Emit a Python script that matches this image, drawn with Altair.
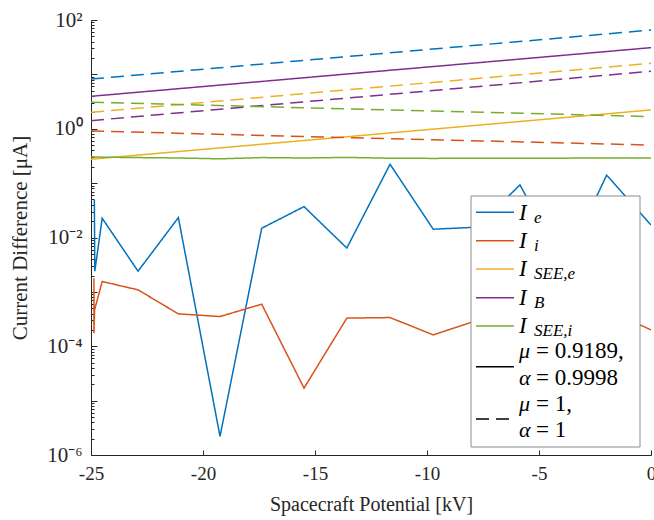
import altair as alt
import pandas as pd

# ---------------- data ----------------
series_names = ["I_e", "I_i", "I_SEE,e", "I_B", "I_SEE,i"]
series_colors = ["#0072BD", "#D95319", "#EDB120", "#7E2F8E", "#77AC30"]

# solid lines (mu = 0.9189, alpha = 0.9998)
ie_x = [-24.85, -24.83, -24.5, -22.9, -21.1, -19.24, -17.38, -15.49, -13.58, -11.65, -9.72, -7.75, -5.85, -3.9, -1.98, 0]
ie_y = [0.049, 0.0024, 0.0226, 0.0024, 0.0232, 2.2e-6, 0.0148, 0.037, 0.0064, 0.222, 0.0142, 0.0155, 0.093, 0.003, 0.14, 0.017]

ii_x = [-24.87, -24.87, -24.84, -24.5, -22.9, -21.1, -19.24, -17.38, -15.49, -13.58, -11.65, -9.72, -7.75, -5.85, -3.9, -1.98, 0]
ii_y = [0.00179, 1.74e-4, 4.67e-4, 0.00155, 0.00109, 3.94e-4, 3.52e-4, 5.94e-4, 1.70e-5, 3.29e-4, 3.37e-4, 1.62e-4, 3.0e-4, 4.0e-4, 2.5e-4, 4.7e-4, 2.0e-4]

grid_x = [-25, -18.75, -12.5, -6.25, 0]
seee_solid = [0.275, 0.463, 0.780, 1.315, 2.22]
ib_solid = [3.95, 6.62, 11.1, 18.5, 31.0]

seei_x = [-25, -24.5, -22.9, -21.1, -19.24, -17.38, -15.49, -13.58, -11.65, -9.72, -7.75, -5.85, -3.9, -1.98, 0]
seei_solid = [0.305, 0.300, 0.295, 0.290, 0.280, 0.295, 0.290, 0.297, 0.287, 0.285, 0.287, 0.288, 0.288, 0.290, 0.290]

# dashed lines (mu = 1, alpha = 1)
ie_dashed = [8.2, 13.8, 23.2, 39.0, 65.5]
ii_dashed = [0.91, 0.78, 0.67, 0.58, 0.50]
seee_dashed = [2.01, 3.37, 5.67, 9.53, 16.0]
ib_dashed = [1.41, 2.38, 4.01, 6.76, 11.4]
seei_dashed = [3.07, 2.64, 2.26, 1.95, 1.67]

x_ticks = [-25, -20, -15, -10, -5, 0]
y_label_ticks = [1e-6, 1e-4, 1e-2, 1, 1e2]

# ---------------- table ----------------
rows = []
def add(name, style, xs, ys):
    for i, (a, b) in enumerate(zip(xs, ys)):
        rows.append({"x": a, "y": b, "series": name, "style": style, "idx": i})

add("I_e", "solid", ie_x, ie_y)
add("I_i", "solid", ii_x, ii_y)
add("I_SEE,e", "solid", grid_x, seee_solid)
add("I_B", "solid", grid_x, ib_solid)
add("I_SEE,i", "solid", seei_x, seei_solid)
add("I_e", "dashed", grid_x, ie_dashed)
add("I_i", "dashed", grid_x, ii_dashed)
add("I_SEE,e", "dashed", grid_x, seee_dashed)
add("I_B", "dashed", grid_x, ib_dashed)
add("I_SEE,i", "dashed", grid_x, seei_dashed)
df = pd.DataFrame(rows)

W, H = 560, 435
FONT = "Liberation Serif"
AX = "#262626"

minor_vals = []
for e in range(-6, 2):
    for m in range(1, 10):
        minor_vals.append(m * 10.0 ** e)
minor_vals.append(100.0)

xscale = alt.Scale(domain=[-25, 0], nice=False, zero=False)
yscale = alt.Scale(type="log", domain=[1e-6, 1e2], nice=False)

sup = "{'0.000001': '10⁻⁶', '0.0001': '10⁻⁴', '0.01': '10⁻²', '1': '10⁰', '100': '10²'}"

lines = alt.Chart(df).mark_line(strokeWidth=1.5, clip=True).encode(
    x=alt.X("x:Q", scale=xscale,
            axis=alt.Axis(values=x_ticks, ticks=False, grid=False, domainColor=AX,
                          labelFont=FONT, labelFontSize=19, labelColor=AX, labelFlush=False,
                          labelExpr="'' + datum.value", labelPadding=9,
                          title="Spacecraft Potential [kV]", titleFont=FONT,
                          titleFontSize=20, titleFontWeight="normal", titleColor=AX,
                          titlePadding=11)),
    y=alt.Y("y:Q", scale=yscale,
            axis=alt.Axis(values=y_label_ticks, ticks=False, grid=False, domainColor=AX,
                          labelFont=FONT, labelFontSize=21, labelColor=AX, labelFlush=False,
                          labelExpr=sup + "[toString(datum.value)]", labelPadding=9,
                          title="Current Difference [μA]", titleFont=FONT,
                          titleFontSize=21, titleFontWeight="normal", titleColor=AX,
                          titlePadding=16)),
    color=alt.Color("series:N", scale=alt.Scale(domain=series_names, range=series_colors), legend=None),
    strokeDash=alt.StrokeDash("style:N", scale=alt.Scale(domain=["solid", "dashed"], range=[[1, 0], [13, 7]]), legend=None),
    order="idx:Q",
)

ticks_layer = alt.Chart(df).mark_point(opacity=0).encode(
    x=alt.X("x:Q", scale=xscale,
            axis=alt.Axis(orient="top", offset=-H, values=x_ticks, labels=False, domain=False,
                          grid=False, tickSize=5, tickColor=AX, title=None)),
    y=alt.Y("y:Q", scale=yscale,
            axis=alt.Axis(orient="right", offset=-W, values=minor_vals, labels=False, domain=False,
                          grid=False, tickColor=AX, title=None,
                          tickSize={"condition": {"test": "abs(log(datum.value)/LN10 - round(log(datum.value)/LN10)) < 0.001", "value": 6}, "value": 3})),
)

# ---------------- legend (drawn in the plot's pixel frame) ----------------
box = pd.DataFrame([{"x1": 380, "x2": 549, "y1": 176, "y2": 427}])
legend_box = alt.Chart(box).mark_rect(fill="white", stroke="#8c8c8c", strokeWidth=1).encode(
    x=alt.X("x1:Q", scale=None, axis=None), x2="x2:Q",
    y=alt.Y("y1:Q", scale=None, axis=None), y2="y2:Q")

sw = pd.DataFrame({
    "x1": [385] * 5, "x2": [423] * 5,
    "y": [192.3, 220.7, 249, 277.7, 306],
    "series": series_names,
})
legend_sw = alt.Chart(sw).mark_rule(strokeWidth=1.5).encode(
    x=alt.X("x1:Q", scale=None, axis=None), x2="x2:Q",
    y=alt.Y("y:Q", scale=None, axis=None),
    color=alt.Color("series:N", scale=alt.Scale(domain=series_names, range=series_colors), legend=None))

sw2 = pd.DataFrame({"x1": [385, 385], "x2": [423, 423], "y": [346.7, 399], "style": ["solid", "dashed"]})
legend_sw2 = alt.Chart(sw2).mark_rule(strokeWidth=1.5, color="black").encode(
    x=alt.X("x1:Q", scale=None, axis=None), x2="x2:Q",
    y=alt.Y("y:Q", scale=None, axis=None),
    strokeDash=alt.StrokeDash("style:N", scale=alt.Scale(domain=["solid", "dashed"], range=[[1, 0], [13, 7]]), legend=None))

main_txt = pd.DataFrame({"x": [428] * 5, "y": [199.5, 227.8, 256.2, 284.5, 312.5], "t": ["I"] * 5})
legend_main = alt.Chart(main_txt).mark_text(font=FONT, fontStyle="italic", fontSize=23, align="left",
                                            baseline="alphabetic", color="black").encode(
    x=alt.X("x:Q", scale=None, axis=None), y=alt.Y("y:Q", scale=None, axis=None), text="t:N")

sub_txt = pd.DataFrame({"x": [443] * 5, "y": [202.5, 230.8, 259.2, 287.5, 315.5],
                        "t": ["e", "i", "SEE,e", "B", "SEE,i"]})
legend_sub = alt.Chart(sub_txt).mark_text(font=FONT, fontStyle="italic", fontSize=17, align="left",
                                          baseline="alphabetic", color="black").encode(
    x=alt.X("x:Q", scale=None, axis=None), y=alt.Y("y:Q", scale=None, axis=None), text="t:N")

greek = pd.DataFrame({"x": [428] * 4, "y": [338, 364.5, 391, 416.5], "t": ["μ", "α", "μ", "α"]})
legend_greek = alt.Chart(greek).mark_text(font=FONT, fontStyle="italic", fontSize=22, align="left",
                                          baseline="alphabetic", color="black").encode(
    x=alt.X("x:Q", scale=None, axis=None), y=alt.Y("y:Q", scale=None, axis=None), text="t:N")

vals = pd.DataFrame({"x": [445] * 4, "y": [338, 364.5, 391, 416.5],
                     "t": ["= 0.9189,", "= 0.9998", "= 1,", "= 1"]})
legend_vals = alt.Chart(vals).mark_text(font=FONT, fontSize=23, align="left",
                                        baseline="alphabetic", color="black").encode(
    x=alt.X("x:Q", scale=None, axis=None), y=alt.Y("y:Q", scale=None, axis=None), text="t:N")

chart = alt.layer(
    lines, ticks_layer, legend_box, legend_sw, legend_sw2, legend_main, legend_sub, legend_greek, legend_vals
).resolve_axis(x="independent", y="independent").properties(
    width=W, height=H,
    autosize=alt.AutoSizeParams(type="none"),
    padding={"left": 91, "top": 20, "right": 3, "bottom": 65},
).configure_view(stroke=None)

chart.save("out.html", embed_options={"renderer": "svg", "actions": False})
